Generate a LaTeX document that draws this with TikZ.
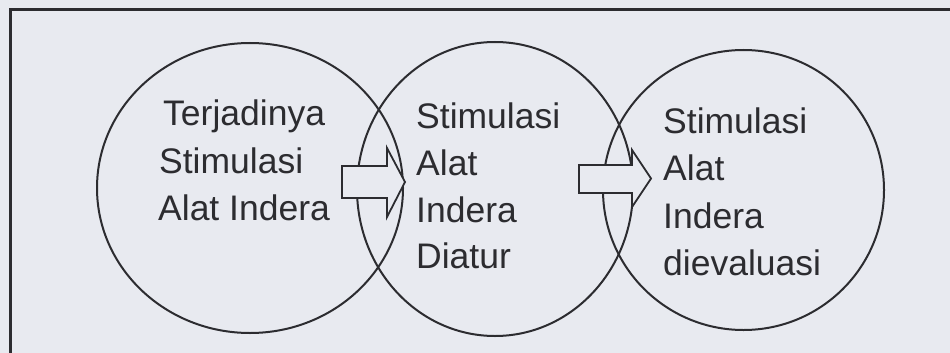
\documentclass[tikz,border=0pt]{standalone}
\usepackage{fontspec}
\setmainfont{Liberation Sans}
\usetikzlibrary{shapes.geometric}
\definecolor{paper}{RGB}{232,234,240}
\definecolor{ink}{RGB}{44,44,48}
\tikzset{
  stage/.style={ellipse, draw=ink, line width=2pt, inner sep=0pt},
  label/.style={anchor=base west, inner sep=0pt, text=ink,
    font=\fontsize{35.5}{42}\selectfont},
  blockarrow/.style={draw=ink, line width=1.8pt, fill=paper, line join=miter},
  frame/.style={draw=ink, line width=2.4pt}
}
\begin{document}
\begin{tikzpicture}[x=1pt, y=-1pt]
  % page and its margins
  \fill[paper] (0,0) rectangle (950,353);
  \useasboundingbox (0,0) rectangle (950,353);

  % frame (runs past the right and bottom edges)
  \draw[frame] (10.5,360) -- (10.5,9.5) -- (960,9.5);

  % the three overlapping stages
  \node[stage, minimum width=306pt, minimum height=290pt] (c1) at (250,188) {};
  \node[stage, minimum width=276pt, minimum height=294pt] (c2) at (495,189) {};
  \node[stage, minimum width=281pt, minimum height=280pt] (c3) at (743.5,190) {};

  % block arrows between the stages
  \coordinate (a1) at (342,182);
  \coordinate (a2) at (579,179);
  \draw[blockarrow] (a1) ++(0,-16) -- ++(45,0) -- ++(0,-18)
    -- ++(18,34) -- ++(-18,35) -- ++(0,-19) -- ++(-45,0) -- cycle;
  \draw[blockarrow] (a2) ++(0,-14) -- ++(53,0) -- ++(0,-15)
    -- ++(19,28.5) -- ++(-19,28.5) -- ++(0,-14) -- ++(-53,0) -- cycle;

  % texts of the first stage
  \node[label] (t11) at (163,125) {Terjadinya};
  \node[label] (t12) at (159,173) {Stimulasi};
  \node[label] (t13) at (158,220) {Alat Indera};

  % texts of the second stage
  \node[label] (t21) at (416,128) {Stimulasi};
  \node[label] (t22) at (416,175) {Alat};
  \node[label] (t23) at (416,222) {Indera};
  \node[label] (t24) at (416,268) {Diatur};

  % texts of the third stage
  \node[label] (t31) at (663,133) {Stimulasi};
  \node[label] (t32) at (663,180) {Alat};
  \node[label] (t33) at (663,228) {Indera};
  \node[label] (t34) at (663,275) {dievaluasi};
\end{tikzpicture}
\end{document}
